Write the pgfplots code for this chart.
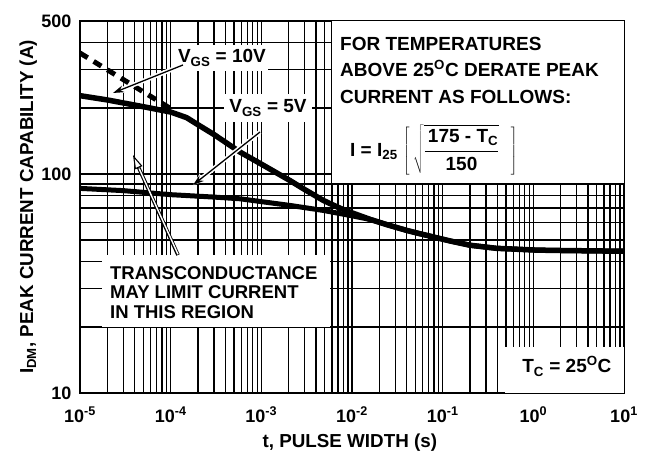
\documentclass[border=0pt]{standalone}
\usepackage{pgfplots}
\pgfplotsset{compat=1.18}
\usepackage{fontspec}
\setmainfont{Liberation Sans}
\usetikzlibrary{arrows.meta}

% grid under the curves, ticks and frame over the white boxes
\pgfplotsset{
  layers/grid under/.define layer set={axis background,axis grid,pre main,main,axis ticks,axis lines,axis tick labels,axis descriptions,axis foreground}{},
}

% I_DM vs pulse width, V_GS = 10 V
\pgfplotstableread{
t       I
1e-5    228
2e-5    218
5e-5    203
1e-4    192
1.5e-4  181
2e-4    168
3e-4    151.6
5.82e-4 126
1e-3    111
2.07e-3 93.4
3e-3    85
4.82e-3 75.8
7e-3    70.5
9.5e-3  67
1.6e-2  62
2.5e-2  58.5
4e-2    55.3
5.6e-2  53.4
0.12    49.5
0.2     47.3
0.39    45.8
1       45
1.6     44.8
10      44.4
}\tenvolt

% V_GS = 5 V
\pgfplotstableread{
t       I
1e-5    86
3e-5    84
1e-4    80.5
3e-4    78.5
5.82e-4 77.1
2.07e-3 71.9
4.82e-3 68.2
9.5e-3  64.7
1.6e-2  62
2.5e-2  58.5
4e-2    55.3
5.6e-2  53.4
0.12    49.5
0.2     47.3
0.39    45.8
1       45
1.6     44.8
10      44.4
}\fivevolt

\begin{document}
\begin{tikzpicture}[font=\fontsize{19bp}{22bp}\selectfont\bfseries]
\begin{axis}[
  set layers=grid under,
  scale only axis,
  width=544bp, height=372bp,
  xmode=log, ymode=log,
  xmin=1e-5, xmax=10, ymin=10, ymax=500,
  xtick={1e-5,1e-4,1e-3,1e-2,1e-1,1,10},
  xticklabels={10\textsuperscript{-5},10\textsuperscript{-4},10\textsuperscript{-3},10\textsuperscript{-2},10\textsuperscript{-1},10\textsuperscript{0},10\textsuperscript{1}},
  ytick={10,100,500},
  yticklabels={10,100,500},
  minor ytick={20,30,40,50,60,70,80,90,200,300,400},
  grid=both,
  grid style={black, line width=1.3bp},
  major grid style={black, line width=1.3bp},
  minor grid style={black, line width=1.3bp},
  axis line style={line width=2bp},
  tick style={black, line width=1.3bp},
  major tick length=7bp, minor tick length=4bp,
  tick align=inside,
  tick label style={font=\fontsize{18bp}{21bp}\selectfont\bfseries},
  xticklabel style={anchor=base, yshift=-29bp},
  yticklabel style={xshift=-5bp},
  xlabel={t, PULSE WIDTH (s)},
  ylabel={I\textsubscript{DM}, PEAK CURRENT CAPABILITY (A)},
  xlabel style={font=\fontsize{18.8bp}{22bp}\selectfont\bfseries, at={(rel axis cs:0.496,-0.1478)}, anchor=base},
  ylabel style={font=\fontsize{18.8bp}{22bp}\selectfont\bfseries, at={(rel axis cs:-0.0864,0.5)}, anchor=base},
]
\addplot[black, line width=5.5bp, line join=round] table[x=t, y=I] {\tenvolt};
\addplot[black, line width=5bp, line join=round] table[x=t, y=I] {\fivevolt};
\addplot[black, line width=5bp, dash pattern=on 9bp off 7bp] coordinates {(1e-5,357) (1e-4,199)};

% derating note
\fill[white] (rel axis cs:0.463,0.5645) rectangle (rel axis cs:1,1);
\node[anchor=base west, inner sep=0pt] at (rel axis cs:0.478,0.922) {FOR TEMPERATURES};
\node[anchor=base west, inner sep=0pt] at (rel axis cs:0.478,0.8495) {ABOVE 25\textsuperscript{O}C DERATE PEAK};
\node[anchor=base west, inner sep=0pt] at (rel axis cs:0.478,0.7769) {CURRENT AS FOLLOWS:};
\node[anchor=west, inner sep=0pt] at (rel axis cs:0.4963,0.6532)
  {I = I\textsubscript{25} $\left[\,\sqrt{\displaystyle\frac{\mbox{\,175 - T\textsubscript{C}}}{\mbox{150}}}\;\;\right]$};

% transconductance note
\fill[white] (rel axis cs:0.0404,0.1774) rectangle (rel axis cs:0.4596,0.371);
\begin{scope}[font=\fontsize{18.5bp}{22bp}\selectfont\bfseries]
\node[anchor=base west, inner sep=0pt] at (rel axis cs:0.0551,0.3038) {TRANSCONDUCTANCE};
\node[anchor=base west, inner sep=0pt] at (rel axis cs:0.0551,0.2546) {MAY LIMIT CURRENT};
\node[anchor=base west, inner sep=0pt] at (rel axis cs:0.0551,0.2008) {IN THIS REGION};
\end{scope}

% case temperature
\fill[white] (rel axis cs:0.781,0) rectangle (rel axis cs:1,0.1237);
\node[anchor=base, inner sep=0pt] at (rel axis cs:0.895,0.0538) {T\textsubscript{C} = 25\textsuperscript{O}C};

% curve labels
\node[fill=white, anchor=base, inner xsep=2bp, inner ysep=5bp] at (rel axis cs:0.261,0.8871) {V\textsubscript{GS} = 10V};
\node[fill=white, anchor=base, inner xsep=5bp, inner ysep=6bp] at (rel axis cs:0.3456,0.7527) {V\textsubscript{GS} = 5V};

% arrows to the curves
\draw[white, line width=4.5bp, -{Stealth[length=13bp,width=10bp]}] (rel axis cs:0.1893,0.8817) -- (rel axis cs:0.0607,0.8065);
\draw[black, line width=1.3bp, -{Stealth[length=11bp,width=7bp]}] (rel axis cs:0.1893,0.8817) -- (rel axis cs:0.0607,0.8065);
\draw[white, line width=4.5bp, -{Stealth[length=13bp,width=10bp]}] (rel axis cs:0.3309,0.7016) -- (rel axis cs:0.2077,0.5591);
\draw[black, line width=1.3bp, -{Stealth[length=11bp,width=7bp]}] (rel axis cs:0.3309,0.7016) -- (rel axis cs:0.2077,0.5591);

% hollow arrow into the transconductance region
\draw[black, line width=3.6bp, shorten >=10bp] (rel axis cs:0.1801,0.371) -- (rel axis cs:0.0974,0.6398);
\draw[white, line width=1.4bp, shorten >=10bp] (rel axis cs:0.1801,0.373) -- (rel axis cs:0.0974,0.6398);
\draw[black, line width=1.1bp, -{Triangle[length=14bp,width=8bp,fill=white]}] (rel axis cs:0.1087,0.603) -- (rel axis cs:0.0974,0.6398);
\end{axis}
\pgfresetboundingbox
\path (current axis.south west) ++(-80bp,-60bp) rectangle ++(646bp,453bp);
\end{tikzpicture}
\end{document}
